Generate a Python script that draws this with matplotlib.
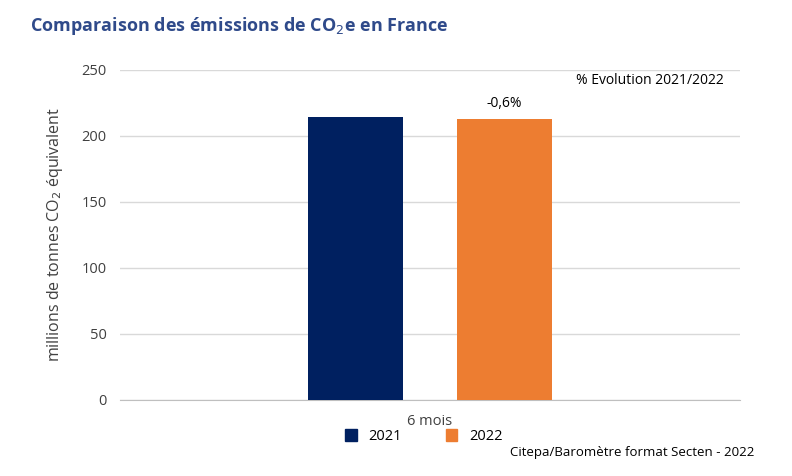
import matplotlib
matplotlib.use("Agg")
import matplotlib.pyplot as plt
from matplotlib.patches import Patch

years = ["2021", "2022"]
values = [214.5, 213.0]
colors = ["#002060", "#ED7D31"]
category = "6 mois"
evolution = "-0,6%"

plt.rcParams["font.family"] = ["Open Sans", "DejaVu Sans"]

fig = plt.figure(figsize=(7.92, 4.76), dpi=100)
ax = fig.add_axes([0.152, 0.160, 0.782, 0.693])

offsets = [-0.12, 0.12]
width = 0.153
for off, v, c in zip(offsets, values, colors):
    ax.bar(0.5 + off, v, width=width, color=c, zorder=3)

ax.text(0.5 + offsets[1], values[1] + 6, evolution, ha="center", va="bottom", fontsize=10)
ax.text(0.975, 242, "% Evolution 2021/2022", ha="right", va="center", fontsize=10)

ax.set_xlim(0, 1)
ax.set_ylim(0, 250)
ax.set_yticks(range(0, 251, 50))
ax.set_xticks([0.5])
ax.set_xticklabels([category])
ax.tick_params(axis="both", length=0, labelsize=10.5, colors="#404040", pad=10)
ax.grid(axis="y", color="#d9d9d9", linewidth=1, zorder=0)
for s in ["top", "right", "left"]:
    ax.spines[s].set_visible(False)
ax.spines["bottom"].set_color("#bfbfbf")
ax.set_ylabel("millions de tonnes CO$_2$ équivalent", fontsize=11.5, color="#404040", labelpad=12)

fig.text(0.038, 0.945, "Comparaison des émissions de CO$_2$e en France",
         fontsize=13, fontweight="bold", color="#2F4A8A", va="center")

handles = [Patch(color=c) for c in colors]
fig.legend(handles, years, loc="center", bbox_to_anchor=(0.535, 0.083), ncol=2,
           frameon=False, fontsize=10.5, handlelength=0.8, handleheight=0.8, columnspacing=3)
fig.text(0.953, 0.05, "Citepa/Baromètre format Secten - 2022", ha="right", va="center", fontsize=9.5)

fig.savefig("out.png", dpi=100)
